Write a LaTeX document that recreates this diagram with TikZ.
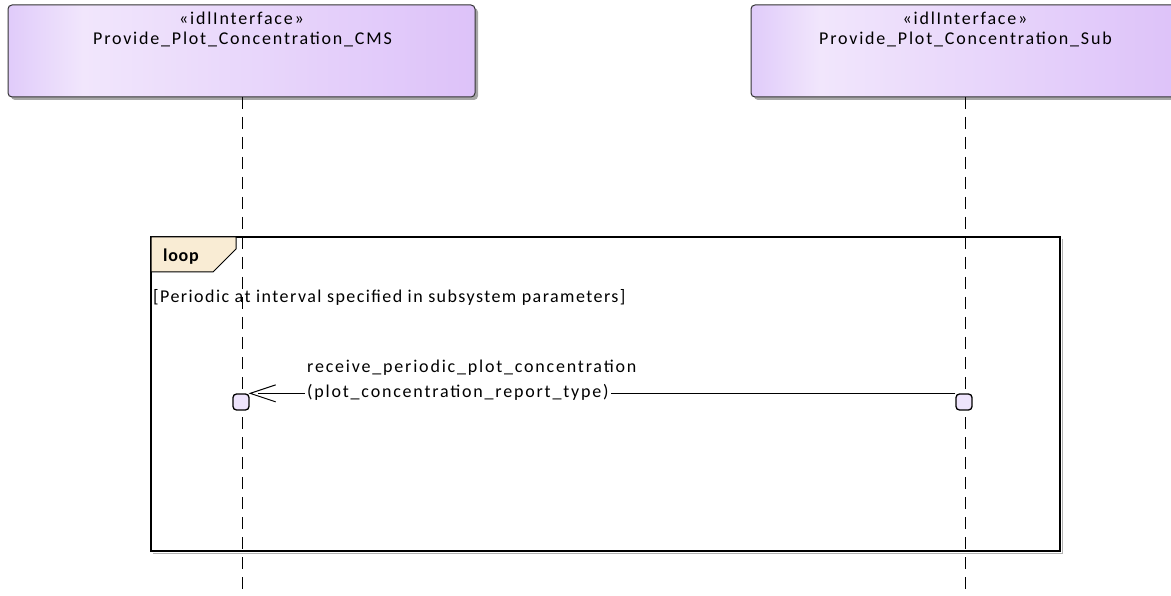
\documentclass[tikz,border=0pt]{standalone}
\usepackage{fontspec}
\setmainfont{Carlito}[LetterSpace=10]
\newfontfamily\boldlabel{Carlito}[LetterSpace=4]
\newfontfamily\guardfont{Carlito}[LetterSpace=8]
\definecolor{boxA}{RGB}{224,203,250}
\definecolor{boxB}{RGB}{241,230,252}
\definecolor{boxC}{RGB}{221,194,249}
\definecolor{tabfill}{RGB}{249,236,212}
\definecolor{actfill}{RGB}{238,228,252}
\pgfdeclarehorizontalshading{boxshade}{100bp}{color(0bp)=(boxA); color(25bp)=(boxA); color(33bp)=(boxB); color(75bp)=(boxC); color(100bp)=(boxC)}
\begin{document}
\begin{tikzpicture}[x=1pt,y=-1pt,
  lifebox/.style={draw=black!80, line width=1pt, rounded corners=4pt, shading=boxshade},
  shadowbox/.style={fill=black!35, rounded corners=4pt},
  lifeline/.style={draw=black, line width=1pt, dash pattern=on 12pt off 8pt},
  actbox/.style={draw=black, line width=1.3pt, fill=actfill, rounded corners=3.5pt, minimum width=16pt, minimum height=16pt, inner sep=0pt},
  txt/.style={font=\fontsize{18}{24}\selectfont, inner sep=0pt},
  msg/.style={draw=black, line width=1pt},
]
\useasboundingbox (0,0) rectangle (1171,596);
% lifeline heads
\fill[shadowbox] (11,8) rectangle (478,100);
\path[lifebox] (8,5) rectangle (475,97);
\node[txt] (s1) at (241.5,18) {«idlInterface»};
\node[txt] (n1) at (242.5,39) {Provide\_Plot\_Concentration\_CMS};
\fill[shadowbox] (754,8) rectangle (1183,100);
\path[lifebox] (751,5) rectangle (1180,97);
\node[txt] (s2) at (965,18) {«idlInterface»};
\node[txt] (n2) at (965.5,39) {Provide\_Plot\_Concentration\_Sub};
% lifelines
\coordinate (l1top) at (242,97);
\coordinate (l1bot) at (242,596);
\coordinate (l2top) at (965,97);
\coordinate (l2bot) at (965,596);
\draw[lifeline] (l1top) -- (l1bot);
\draw[lifeline] (l2top) -- (l2bot);
% loop frame
\draw[black!30, line width=1pt] (153,553) -- (1062,553) -- (1062,239);
\draw[black, line width=1.3pt] (151,237) rectangle (1060,551);
\draw[black, line width=1pt, fill=tabfill] (151,237) -- (236,237) -- (236,249) -- (213,272) -- (151,272) -- cycle;
\node[txt, anchor=west, font=\fontsize{18}{20}\boldlabel\bfseries] (loop) at (163,257) {loop};
\node[txt, anchor=west, font=\fontsize{18}{24}\guardfont] (guard) at (153,297) {[Periodic at interval specified in subsystem parameters]};
% activations
\node[actbox] (a1) at (241,402) {};
\node[actbox] (a2) at (964,402) {};
\draw[msg] (a2.north west) -- ([xshift=8pt]a1.north east);
\draw[black, line width=1pt] ([xshift=26pt,yshift=8.5pt]a1.north east) -- ([xshift=0.5pt]a1.north east) -- ([xshift=26pt,yshift=-8.5pt]a1.north east);
\node[txt, anchor=base west] (lbl1) at (307,373) {receive\_periodic\_plot\_concentration};
\node[txt, anchor=base west, fill=white, inner xsep=2pt, inner ysep=2pt] (lbl2) at (305,397) {(plot\_concentration\_report\_type)};
\end{tikzpicture}
\end{document}
